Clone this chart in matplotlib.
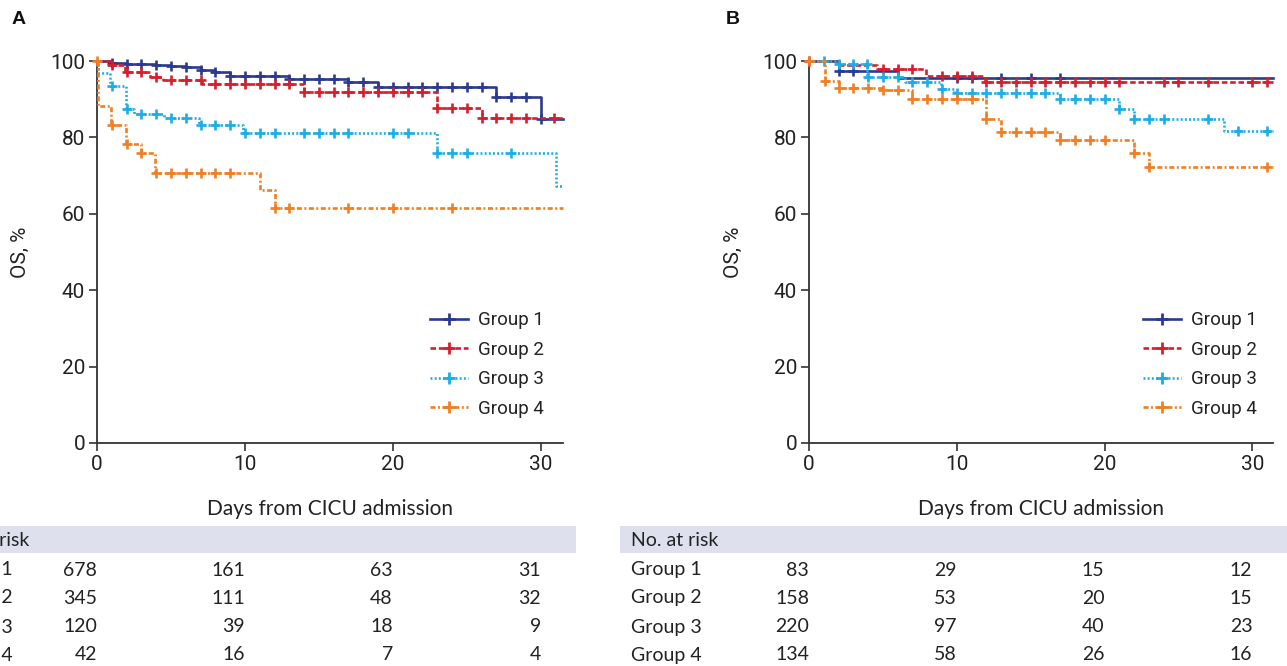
import numpy as np
import matplotlib
matplotlib.use("Agg")
import matplotlib.pyplot as plt
from matplotlib import transforms
from matplotlib.patches import Rectangle

# ---------------- data ----------------
groups = ["Group 1", "Group 2", "Group 3", "Group 4"]
days_ticks = [0, 10, 20, 30]
os_ticks = [0, 20, 40, 60, 80, 100]

# Panel A: step times (days) and survival (%)
A_g1_t = [0, 1, 2, 4, 5, 6, 7, 8, 9, 13, 17, 19, 27, 30]
A_g1_s = [100, 99.6, 99.3, 99.0, 98.7, 98.4, 97.6, 97.0, 96.2, 95.4, 94.4, 93.1, 90.6, 84.9]
A_g1_c = [1, 2, 3, 4, 5, 6, 7, 8, 9, 10, 11, 12, 13, 14, 15, 16, 17, 18, 19, 20,
          21, 22, 23, 24, 25, 26, 27, 28, 29, 30]
A_g2_t = [0, 0.9, 1.9, 3.55, 4.45, 7.1, 14, 23, 26]
A_g2_s = [100, 98.9, 97.1, 95.9, 95.0, 94.1, 91.8, 87.6, 85.2]
A_g2_c = [1, 2, 3, 4, 5, 6, 7, 8, 9, 10, 11, 12, 13, 14, 15, 16, 17, 18, 19, 20,
          21, 22, 23, 24, 25, 26, 27, 28, 29, 30.9]
A_g3_t = [0, 0.1, 0.9, 1.95, 2.5, 4.5, 6.9, 9.9, 23, 31]
A_g3_s = [100, 96.8, 93.5, 87.4, 86.1, 85.0, 83.3, 81.1, 75.8, 67.3]
A_g3_c = [1, 2, 3, 4, 5, 6, 7, 8, 9, 10, 11, 12, 14, 15, 16, 17, 20, 21, 23, 24, 25, 28]
A_g4_t = [0, 0.05, 0.95, 1.95, 2.95, 3.95, 11, 12]
A_g4_s = [100, 88.2, 83.2, 78.4, 75.8, 70.6, 66.1, 61.4]
A_g4_c = [0, 1, 2, 3, 4, 5, 6, 7, 8, 9, 12, 13, 17, 20, 24]

# Panel B
B_g1_t = [0, 2, 6]
B_g1_s = [100, 97.4, 95.5]
B_g1_c = [2, 3, 10, 11, 13, 15, 17]
B_g2_t = [0, 2, 4.6, 7.9, 11.9]
B_g2_s = [100, 99.0, 97.8, 96.2, 94.5]
B_g2_c = [0, 5, 6, 7, 9, 10, 11, 12, 13, 14, 15, 16, 17, 18, 19, 20, 21, 24, 25, 27, 30, 31]
B_g3_t = [0, 1.9, 3.95, 6.5, 8.95, 9.8, 17, 21, 22, 28.1]
B_g3_s = [100, 99.2, 95.7, 94.5, 92.6, 91.7, 90.1, 87.5, 84.8, 81.8]
B_g3_c = [1, 2, 3, 3.9, 4, 5, 6, 7, 8, 9, 10, 11, 12, 13, 14, 15, 16, 17, 18, 19, 20,
          21, 22, 23, 24, 27, 29, 31]
B_g4_t = [0, 1.1, 2, 5, 7, 12, 13, 17, 22, 23]
B_g4_s = [100, 94.7, 93.0, 92.4, 90.0, 84.7, 81.5, 79.3, 75.8, 72.2]
B_g4_c = [0, 1.1, 2, 3, 4, 5, 6, 7, 8, 9, 10, 11, 12, 13, 14, 15, 16, 17, 18, 19, 20,
          22, 23, 31]

# Number at risk (at days 0, 10, 20, 30)
A_risk_g1 = [678, 161, 63, 31]
A_risk_g2 = [345, 111, 48, 32]
A_risk_g3 = [120, 39, 18, 9]
A_risk_g4 = [42, 16, 7, 4]
B_risk_g1 = [83, 29, 15, 12]
B_risk_g2 = [158, 53, 20, 15]
B_risk_g3 = [220, 97, 40, 23]
B_risk_g4 = [134, 58, 26, 16]

# ---------------- style ----------------
W, H = 1287, 666
plt.rcParams["lines.scale_dashes"] = False
colors = ["#2b3a8f", "#d61f2c", "#19aee8", "#f07e22"]
dashes = [None, (4.0, 2.0), (1.4, 1.6), (3.6, 1.8, 1.4, 1.8)]
TICK_FONT = "Roboto"
TEXT_FONT = "Lato"
INK = "#222222"


def fx(px):
    return px / W


def fy(py):
    return 1 - py / H


fig = plt.figure(figsize=(W / 100, H / 100), dpi=100)


def make_panel(left_px, right_px, xmax, series, letter, letter_x, risk, label_x, ylabel_x,
               legend_x, band_x0, band_x1):
    top_px, bot_px = 61, 443
    ax = fig.add_axes([fx(left_px), fy(bot_px), (right_px - left_px) / W, (bot_px - top_px) / H])
    ax.set_xlim(0, xmax)
    ax.set_ylim(0, 100)
    for sp in ["top", "right"]:
        ax.spines[sp].set_visible(False)
    for sp in ["left", "bottom"]:
        ax.spines[sp].set_color("#333333")
        ax.spines[sp].set_linewidth(1.3)
    ax.set_xticks(days_ticks)
    ax.set_yticks(os_ticks)
    ax.tick_params(direction="out", length=5.5, width=1.2, color="#333333",
                   labelsize=15, labelcolor=INK, pad=3)
    for lab in ax.get_xticklabels() + ax.get_yticklabels():
        lab.set_fontfamily(TICK_FONT)
    ax.patch.set_alpha(0)

    handles = []
    for i, (t, s, c) in enumerate(series):
        t_arr = np.array(t + [xmax], dtype=float)
        s_arr = np.array(s + [s[-1]], dtype=float)
        ln, = ax.step(t_arr, s_arr, where="post", color=colors[i], lw=1.9,
                      clip_on=False, zorder=3 + i)
        if dashes[i] is not None:
            ln.set_dashes(dashes[i])
        idx = np.searchsorted(np.array(t, dtype=float), np.array(c, dtype=float), side="right") - 1
        cv = np.array(s, dtype=float)[idx]
        ax.plot(c, cv, ls="none", marker="+", ms=7.5, mew=1.9, color=colors[i],
                clip_on=False, zorder=3 + i)
        h, = ax.plot([], [], color=colors[i], lw=1.9, marker="+", ms=8, mew=2)
        if dashes[i] is not None:
            h.set_dashes(dashes[i])
        handles.append(h)

    leg = ax.legend(handles, groups, loc="center left",
                    bbox_to_anchor=(fx(legend_x), fy(364.5)), bbox_transform=fig.transFigure,
                    frameon=False, borderpad=0, borderaxespad=0, handlelength=2.05,
                    handletextpad=0.5, labelspacing=0.62, numpoints=1,
                    prop={"family": TICK_FONT, "size": 13.5})
    for txt in leg.get_texts():
        txt.set_color(INK)

    # labels
    fig.text(fx(ylabel_x), fy(252), "OS, %", rotation=90, ha="center", va="center",
             fontsize=15, family=TICK_FONT, color=INK)
    fig.text(fx((left_px + right_px) / 2), fy(509), "Days from CICU admission",
             ha="center", va="center", fontsize=15, family=TEXT_FONT, color=INK)
    fig.text(fx(letter_x), fy(20), letter, ha="left", va="center", fontsize=14,
             fontweight="bold", family="Liberation Sans", color="#111111")

    # risk table
    fig.patches.append(Rectangle((fx(band_x0), fy(553)), fx(band_x1 - band_x0), (553 - 526) / H,
                                 transform=fig.transFigure, facecolor="#dfe0ee",
                                 edgecolor="none", zorder=0))
    fig.text(fx(label_x), fy(540), "No. at risk", ha="left", va="center", fontsize=14,
             family=TEXT_FONT, color=INK)
    trans = transforms.blended_transform_factory(ax.transData, fig.transFigure)
    row_y = [570, 598, 627, 655]
    for g, vals, yy in zip(groups, risk, row_y):
        fig.text(fx(label_x), fy(yy), g, ha="left", va="center", fontsize=14,
                 family=TEXT_FONT, color=INK)
        for d, v in zip(days_ticks, vals):
            ax.text(d, fy(yy), str(v), transform=trans, ha="right", va="center",
                    fontsize=14, family=TEXT_FONT, color=INK, clip_on=False)
    return ax


series_A = [(A_g1_t, A_g1_s, A_g1_c), (A_g2_t, A_g2_s, A_g2_c),
            (A_g3_t, A_g3_s, A_g3_c), (A_g4_t, A_g4_s, A_g4_c)]
series_B = [(B_g1_t, B_g1_s, B_g1_c), (B_g2_t, B_g2_s, B_g2_c),
            (B_g3_t, B_g3_s, B_g3_c), (B_g4_t, B_g4_s, B_g4_c)]
risk_A = [A_risk_g1, A_risk_g2, A_risk_g3, A_risk_g4]
risk_B = [B_risk_g1, B_risk_g2, B_risk_g3, B_risk_g4]

make_panel(97, 563, 31.5, series_A, "A", 12, risk_A, -58, 20, 430, -20, 576)
make_panel(809, 1273, 31.4, series_B, "B", 726, risk_B, 631, 733, 1143, 620, 1300)

fig.savefig("out.png", dpi=100)
